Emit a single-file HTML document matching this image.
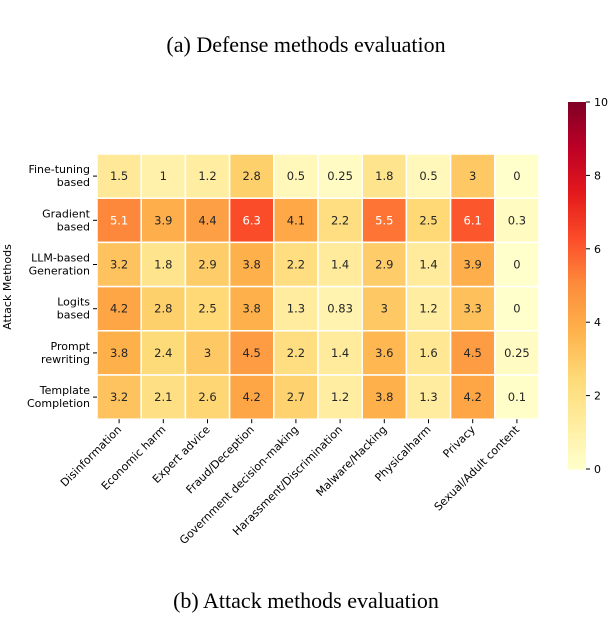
<!DOCTYPE html>
<html><head><meta charset="utf-8"><style>
body{margin:0;background:#fff;}
svg text{font-family:"DejaVu Sans","Liberation Sans",sans-serif;}
</style></head><body>
<svg id="chart" width="612" height="614" xmlns="http://www.w3.org/2000/svg">
<text x="306" y="52" text-anchor="middle" font-size="22" style="font-family:'Liberation Serif',serif">(a) Defense methods evaluation</text>
<text x="306" y="608" text-anchor="middle" font-size="22" style="font-family:'Liberation Serif',serif">(b) Attack methods evaluation</text>
<text transform="translate(11,287) rotate(-90)" text-anchor="middle" font-size="11">Attack Methods</text>
<g id="cells"></g><g id="ylabels"></g><g id="xlabels"></g><g id="cbar"></g>
</svg>
<script>
const rows=[["Fine-tuning","based"],["Gradient","based"],["LLM-based","Generation"],["Logits","based"],["Prompt","rewriting"],["Template","Completion"]];
const cols=["Disinformation","Economic harm","Expert advice","Fraud/Deception","Government decision-making","Harassment/Discrimination","Malware/Hacking","Physicalharm","Privacy","Sexual/Adult content"];
const values=[
[1.5,1,1.2,2.8,0.5,0.25,1.8,0.5,3,0],
[5.1,3.9,4.4,6.3,4.1,2.2,5.5,2.5,6.1,0.3],
[3.2,1.8,2.9,3.8,2.2,1.4,2.9,1.4,3.9,0],
[4.2,2.8,2.5,3.8,1.3,0.83,3,1.2,3.3,0],
[3.8,2.4,3,4.5,2.2,1.4,3.6,1.6,4.5,0.25],
[3.2,2.1,2.6,4.2,2.7,1.2,3.8,1.3,4.2,0.1]];
const cbTicks=[0,2,4,6,8,10];
const vmin=0,vmax=10;
const X0=97,Y0=154,CW=44.2,CH=44.2;
const stops=["#ffffcc","#ffeda0","#fed976","#feb24c","#fd8d3c","#fc4e2a","#e31a1c","#bd0026","#800026"];
function hx(c){return [1,3,5].map(i=>parseInt(c.substr(i,2),16));}
function color(v){let t=Math.max(0,Math.min(1,(v-vmin)/(vmax-vmin)))*(stops.length-1);let i=Math.min(Math.floor(t),stops.length-2);let f=t-i;let a=hx(stops[i]),b=hx(stops[i+1]);return "rgb("+a.map((x,k)=>Math.round(x+(b[k]-x)*f)).join(",")+")";}
const NS="http://www.w3.org/2000/svg";
function mk(tag,attrs,parent){const e=document.createElementNS(NS,tag);for(const k in attrs)e.setAttribute(k,attrs[k]);parent.appendChild(e);return e;}
const cells=document.getElementById("cells"),yl=document.getElementById("ylabels"),xl=document.getElementById("xlabels"),cb=document.getElementById("cbar");
values.forEach((row,r)=>row.forEach((v,c)=>{
 const rc=mk("rect",{x:X0+c*CW,y:Y0+r*CH,width:CW,height:CH,fill:color(v),stroke:"#fff","stroke-width":1.5},cells);
 
 
 const t=mk("text",{x:X0+c*CW+CW/2,y:Y0+r*CH+CH/2+4,"text-anchor":"middle","font-size":11.5,fill:v>5?"#fff":"#262626"},cells);
 t.textContent=v;
 
 
}));
rows.forEach((lab,r)=>{
 const cy=Y0+r*CH+CH/2;
 mk("line",{x1:X0-4,x2:X0,y1:cy,y2:cy,stroke:"#000"},yl);
 const t=mk("text",{x:X0-7,y:cy-3,"text-anchor":"end","font-size":11},yl);
 
 
 const s1=mk("tspan",{x:X0-7},t);s1.textContent=lab[0];
 const s2=mk("tspan",{x:X0-7,dy:13},t);s2.textContent=lab[1];
});
cols.forEach((lab,c)=>{
 const cx=X0+c*CW+CW/2,y=Y0+6*CH;
 mk("line",{x1:cx,x2:cx,y1:y,y2:y+4,stroke:"#000"},xl);
 const t=mk("text",{transform:`translate(${cx+3},${y+11}) rotate(-45)`,"text-anchor":"end","font-size":11},xl);
 t.textContent=lab;
 
 
});
const CBX=568,CBW=18,CBT=102,CBB=469;
for(let i=0;i<200;i++){const v=vmax-(i+0.5)*(vmax-vmin)/200;const h=(CBB-CBT)/200;
 mk("rect",{x:CBX,y:CBT+i*h,width:CBW,height:h+0.6,fill:color(v)},cb);}
const bar=mk("rect",{x:CBX,y:CBT,width:CBW,height:CBB-CBT,fill:"none"},cb);


cbTicks.forEach(v=>{const y=CBB-(v-vmin)/(vmax-vmin)*(CBB-CBT);
 mk("line",{x1:CBX+CBW,x2:CBX+CBW+4,y1:y,y2:y,stroke:"#000"},cb);
 const t=mk("text",{x:CBX+CBW+8,y:y+4,"font-size":11},cb);t.textContent=v;
 
 
});
</script>
</body></html>
